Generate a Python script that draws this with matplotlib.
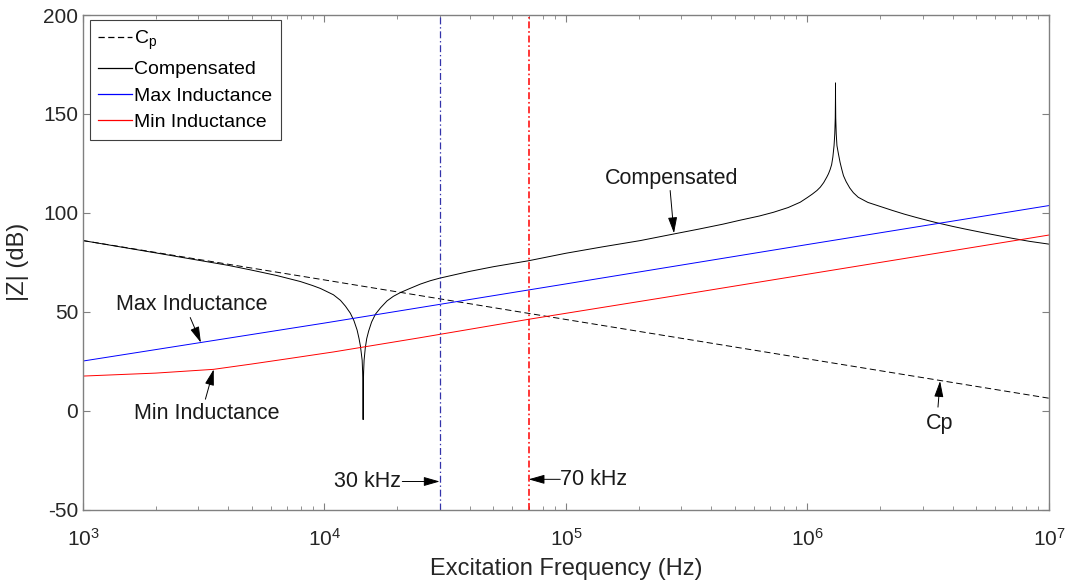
import numpy as np
import matplotlib
matplotlib.use('Agg')
import matplotlib.pyplot as plt

plt.rcParams['font.family'] = ['Liberation Sans', 'DejaVu Sans']
plt.rcParams['mathtext.fontset'] = 'custom'
plt.rcParams['mathtext.rm'] = 'Liberation Sans'
plt.rcParams['mathtext.it'] = 'Liberation Sans:italic'
plt.rcParams['lines.scale_dashes'] = False
plt.rcParams['axes.unicode_minus'] = False

# ---------------- data ----------------
cp_freq = [1e3, 1e4, 1e5, 1e6, 1e7]
cp_db = [86.0, 66.1, 46.1, 26.2, 6.3]

maxl_freq = [1e3, 1e4, 1e5, 1e6, 1e7]
maxl_db = [25.1, 44.3, 64.1, 84.0, 103.7]

minl_freq = [1000, 2000, 3470, 5000, 7080, 10900, 24900, 70000, 270000, 1650000, 1e7]
minl_db = [17.5, 19.0, 20.9, 23.6, 26.3, 29.7, 36.9, 46.2, 57.7, 73.3, 88.8]

# compensated curve: log10(frequency in Hz) and |Z| in dB
comp_log10_freq = [3.0, 3.3, 3.5, 3.6, 3.693, 3.8, 3.9, 3.95, 3.983, 4.0, 4.037, 4.066,
                   4.087, 4.107, 4.122, 4.135, 4.143, 4.149, 4.153, 4.156, 4.158, 4.159,
                   4.1597, 4.160, 4.1603, 4.161, 4.162, 4.164, 4.169, 4.175, 4.183, 4.195,
                   4.211, 4.232, 4.259, 4.285, 4.314, 4.35, 4.397, 4.438, 4.477, 4.6,
                   4.7, 4.845, 5.0, 5.15, 5.308, 5.445, 5.55, 5.65, 5.721, 5.8, 5.859,
                   5.92, 5.970, 6.0, 6.02, 6.039, 6.053, 6.067, 6.080, 6.087, 6.094,
                   6.100, 6.105, 6.110, 6.113, 6.115, 6.1158, 6.116, 6.1162, 6.117,
                   6.119, 6.122, 6.128, 6.135, 6.142, 6.149, 6.16, 6.175, 6.19, 6.21,
                   6.25, 6.3, 6.35, 6.4, 6.45, 6.5, 6.536, 6.6, 6.65, 6.743, 6.85,
                   6.92, 7.0]
comp_db = [86.0, 79.8, 75.6, 73.5, 71.2, 68.4, 65.3, 63.3, 61.8, 60.8, 58.6, 55.8,
           52.8, 49.3, 45.5, 40.8, 36.5, 32.5, 28.5, 25.5, 19.5, 13.5,
           6.0, -4.5, 6.0, 13.5, 19.5, 25.5, 31.8, 36.5, 40.3, 44.8,
           48.8, 52.0, 55.5, 57.8, 59.7, 61.6, 64.0, 65.7, 67.0, 70.4,
           72.8, 75.8, 79.6, 82.8, 86.0, 89.3, 91.8, 94.3, 96.3, 98.4, 100.3,
           102.7, 105.4, 107.8, 109.5, 111.3, 113.0, 115.3, 118.1, 119.8, 122.0,
           124.4, 128.2, 134.0, 140.0, 148.0, 158.0, 165.7, 158.0, 148.0,
           140.0, 134.0, 129.9, 125.5, 122.0, 118.8, 115.8, 112.6, 110.2, 107.9,
           105.3, 103.3, 101.3, 99.4, 97.7, 96.1, 95.0, 93.2, 91.9, 89.6, 87.1,
           85.6, 84.2]

marker_freq_khz = [30, 70]
marker_labels = ['30 kHz', '70 kHz']

legend_labels = [r'C$_{\mathregular{p}}$', 'Compensated', 'Max Inductance', 'Min Inductance']

# ---------------- figure ----------------
fig = plt.figure(figsize=(10.68, 5.80), dpi=100)
ax = fig.add_axes([0.0777, 0.1214, 0.9045, 0.8526])

ax.plot(cp_freq, cp_db, color='k', lw=0.7, linestyle=(0, (4.5, 2.5)), label=legend_labels[0])
ax.plot(10 ** np.array(comp_log10_freq), comp_db, color='k', lw=0.7, label=legend_labels[1])
ax.plot(maxl_freq, maxl_db, color='#0000ff', lw=0.7, label=legend_labels[2])
ax.plot(minl_freq, minl_db, color='#ff0000', lw=0.7, label=legend_labels[3])

ax.axvline(marker_freq_khz[0] * 1e3, color='#3333aa', lw=0.9, linestyle=(0, (5, 2, 1, 2)))
ax.axvline(marker_freq_khz[1] * 1e3, color='#ff0000', lw=1.1, linestyle=(0, (5, 2, 1.2, 2)))

ax.set_xscale('log')
ax.set_xlim(1e3, 1e7)
ax.set_ylim(-50, 200)
ax.set_yticks([-50, 0, 50, 100, 150, 200])

spine_c = '#808080'
for s in ax.spines.values():
    s.set_color(spine_c)
    s.set_linewidth(1.0)
ax.tick_params(which='both', direction='in', top=True, right=True, color=spine_c,
               labelcolor='#262626', labelsize=15)
ax.tick_params(which='major', length=5, width=0.8)
ax.tick_params(which='minor', length=3, width=0.6)
ax.tick_params(axis='x', which='major', pad=13)

ax.set_xlabel('Excitation Frequency (Hz)', fontsize=17, color='#262626', labelpad=6)
ax.set_ylabel('|Z| (dB)', fontsize=17, color='#262626', labelpad=10)

# annotations
arrow_kw = dict(arrowstyle='-|>,head_length=0.7,head_width=0.2', color='k', lw=0.7,
                mutation_scale=14, shrinkA=0, shrinkB=0)
ann_fs = 15.5

ax.text(2.75e5, 117.4, 'Compensated', ha='center', va='center', fontsize=ann_fs, color='#1a1a1a')
ax.annotate('', xy=(2.8e5, 89.7), xytext=(2.7e5, 111.3), arrowprops=arrow_kw)

ax.text(2812, 53.5, 'Max Inductance', ha='center', va='center', fontsize=ann_fs, color='#1a1a1a')
ax.annotate('', xy=(3078, 34.4), xytext=(2780, 47.1), arrowprops=arrow_kw)

ax.text(3243, -1.3, 'Min Inductance', ha='center', va='center', fontsize=ann_fs, color='#1a1a1a')
ax.annotate('', xy=(3478, 20.9), xytext=(3213, 5.8), arrowprops=arrow_kw)

ax.text(3.52e6, -6.3, 'Cp', ha='center', va='center', fontsize=ann_fs, color='#1a1a1a')
ax.annotate('', xy=(3.54e6, 15.0), xytext=(3.47e6, 1.8), arrowprops=arrow_kw)

ax.text(15.1e3, -35.8, marker_labels[0], ha='center', va='center', fontsize=ann_fs, color='#1a1a1a')
ax.annotate('', xy=(marker_freq_khz[0] * 1e3, -35.8), xytext=(21.0e3, -35.8), arrowprops=arrow_kw)

ax.text(129.7e3, -34.7, marker_labels[1], ha='center', va='center', fontsize=ann_fs, color='#1a1a1a')
ax.annotate('', xy=(marker_freq_khz[1] * 1e3, -34.7), xytext=(94.7e3, -34.7), arrowprops=arrow_kw)

leg = ax.legend(loc='upper left', bbox_to_anchor=(0.007, 0.99), fontsize=14,
                frameon=True, fancybox=False, edgecolor='#404040', framealpha=1,
                handlelength=1.7, handletextpad=0.15, labelspacing=0.45,
                borderpad=0.45, borderaxespad=0.0)
leg.get_frame().set_linewidth(0.8)
for h in leg.get_lines():
    h.set_linewidth(0.9)

fig.savefig('out.png', dpi=100)
